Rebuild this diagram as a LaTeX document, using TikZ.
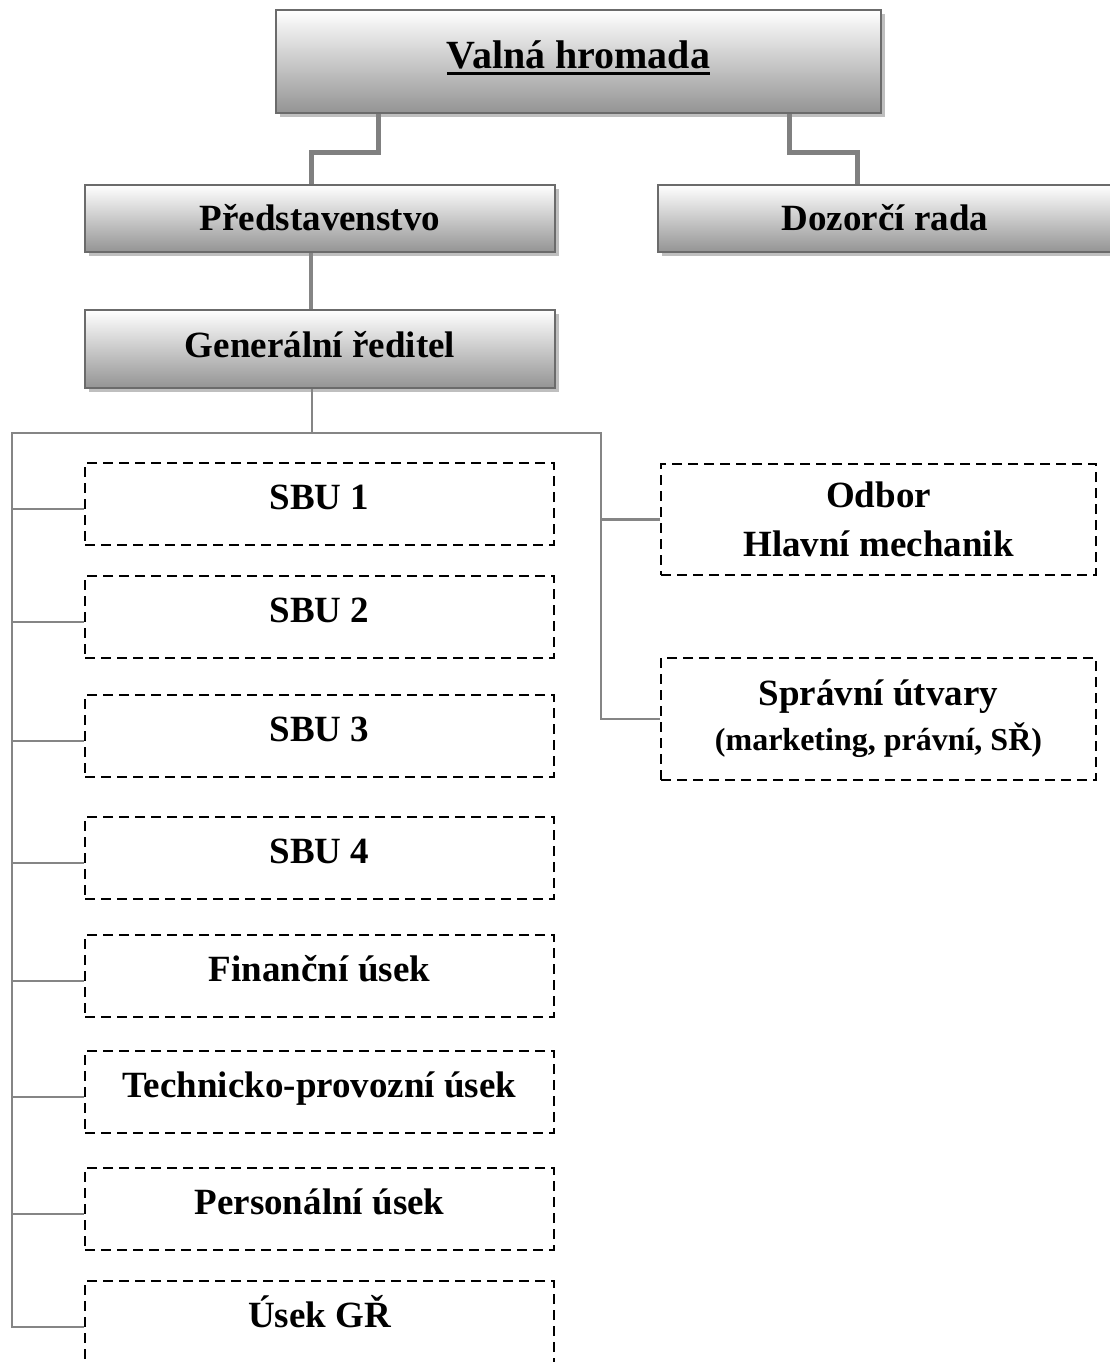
\documentclass[tikz,border=0pt]{standalone}
\usepackage{fontspec}
\setmainfont{Liberation Serif}
\usetikzlibrary{shadows}
\newcommand\myul[1]{\setbox0=\hbox{#1}\rlap{\rule[-6pt]{\wd0}{3pt}}\box0}
\tikzset{
  gbox/.style={rectangle, draw=black!58, line width=2.5pt,
    top color=white, middle color=black!9, bottom color=black!42,
    drop shadow={shadow xshift=4pt, shadow yshift=-4pt, fill=black!25, opacity=1},
    inner sep=0pt, font=\bfseries\fontsize{37}{45}\selectfont,
    text height=24.5pt, text depth=0pt},
  dbox/.style={rectangle, draw=black, line width=2.5pt, dash pattern=on 10pt off 6pt,
    inner sep=0pt, minimum width=469pt, minimum height=82pt,
    font=\bfseries\fontsize{37}{45}\selectfont,
    text height=24.5pt, text depth=13pt},
  conn/.style={draw=black!48, line width=2.5pt},
  thickconn/.style={draw=black!50, line width=5pt}
}
\begin{document}
\begin{tikzpicture}[x=1pt,y=-1pt]
\useasboundingbox (0,0) rectangle (1109,1362);
% governing boxes
\node[gbox, minimum width=605pt, minimum height=103pt, text height=26.5pt, text depth=12pt,
  font=\bfseries\fontsize{40}{48}\selectfont] (valna) at (578.5,61.5) {\myul{Valná hromada}};
\node[gbox, minimum width=470pt, minimum height=67pt] (pred) at (320,218.5) {Představenstvo};
\node[gbox, minimum width=454pt, minimum height=67pt] (dozor) at (885,218.5) {Dozorčí rada};
\node[gbox, minimum width=470pt, minimum height=78pt, text depth=8pt] (gen) at (320,349) {Generální ředitel};
% dashed units
\node[dbox] (sbu1) at (319.5,504) {SBU 1};
\node[dbox] (sbu2) at (319.5,617) {SBU 2};
\node[dbox] (sbu3) at (319.5,736) {SBU 3};
\node[dbox] (sbu4) at (319.5,858) {SBU 4};
\node[dbox] (fin) at (319.5,976) {Finanční úsek};
\node[dbox] (tech) at (319.5,1092) {Technicko-provozní úsek};
\node[dbox] (pers) at (319.5,1209) {Personální úsek};
\node[dbox] (usek) at (319.5,1322) {Úsek GŘ};
\node[dbox, minimum width=435pt, minimum height=111pt, text height={}, text depth={}, align=center,
  font=\bfseries\fontsize{37}{49}\selectfont] (odbor) at (878.5,519.5) {Odbor\\Hlavní mechanik};
\node[dbox, minimum width=435pt, minimum height=122pt, text height={}, text depth={}, align=center,
  font=\bfseries\fontsize{37}{45}\selectfont] (spravni) at (878.5,719)
  {Správní útvary\\{\fontsize{32}{45}\selectfont (marketing, právní, SŘ)}};
% connectors
\draw[thickconn] (valna.south -| 378,0) -- (378,152) -| (pred.north -| 311,0);
\draw[thickconn] (valna.south -| 789,0) -- (789,152) -| (dozor.north -| 857,0);
\draw[conn, line width=4pt] (pred.south -| 311,0) -- (gen.north -| 311,0);
\coordinate (busL) at (12,433);
\coordinate (busR) at (601,433);
\coordinate (busM) at (312,433);
\draw[conn] (gen.south -| busM) -- (busM);
\draw[conn] ([yshift=-6pt]usek.west -| busL) -- (busL) -- (busR) |- (spravni.west);
\draw[conn] (odbor.west -| busR) -- (odbor.west);
\foreach \n in {sbu1,sbu2,sbu3,sbu4,fin,tech,pers,usek}
  \draw[conn] ([yshift=-5pt]\n.west -| busL) -- ([yshift=-5pt]\n.west);
\end{tikzpicture}
\end{document}
